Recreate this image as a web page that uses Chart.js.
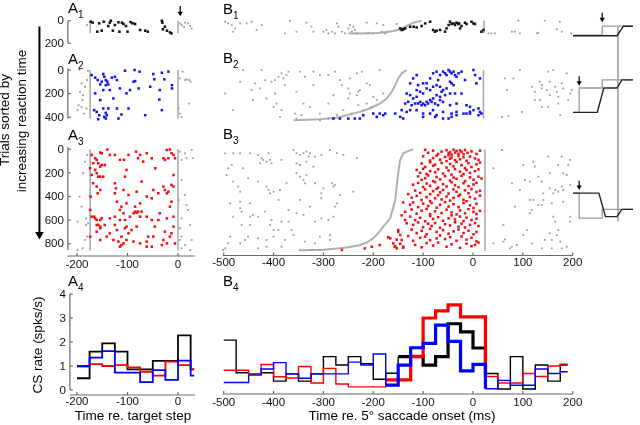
<!DOCTYPE html>
<html>
<head>
<meta charset="utf-8">
<script src="https://cdn.jsdelivr.net/npm/chart.js@4.4.1/dist/chart.umd.min.js"></script>
<style>
  body { margin: 0; background: #fff; }
  #fig { position: relative; width: 640px; height: 425px; overflow: hidden;
         font-family: "Liberation Sans", Arial, sans-serif; color: #000; }
  #fig canvas { position: absolute; left: 0; top: 0; }
  .lab { position: absolute; font-size: 15px; line-height: 15px; white-space: nowrap; z-index: 5; }
  .lab span { font-size: 10px; position: relative; top: 5px; }
  .title { position: absolute; font-size: 13.5px; line-height: 13.5px; white-space: nowrap;
           transform: translateX(-50%); z-index: 5; }
  .rot { position: absolute; font-size: 13.5px; line-height: 13.5px; white-space: nowrap;
         transform: translate(-50%, -50%) rotate(-90deg); z-index: 5; }
</style>
</head>
<body>
<div id="fig">
  <div class="lab" style="left:68px;top:0px">A<span>1</span></div>
  <div class="lab" style="left:68px;top:51px">A<span>2</span></div>
  <div class="lab" style="left:68px;top:127px">A<span>3</span></div>
  <div class="lab" style="left:68px;top:273px">A<span>4</span></div>
  <div class="lab" style="left:223px;top:1px">B<span>1</span></div>
  <div class="lab" style="left:223px;top:50px">B<span>2</span></div>
  <div class="lab" style="left:223px;top:126px">B<span>3</span></div>
  <div class="lab" style="left:223px;top:273px">B<span>4</span></div>
  <div class="rot" style="left:5px;top:120px">Trials sorted by</div>
  <div class="rot" style="left:22px;top:121px">increasing reaction time</div>
  <div class="rot" style="left:38px;top:345px">CS rate (spks/s)</div>
  <div class="title" style="left:133px;top:409px">Time re. target step</div>
  <div class="title" style="left:402px;top:409px">Time re. 5° saccade onset (ms)</div>
</div>
<script>
// ---- histogram data (CS rate, spks/s, 25 ms bins) ----
const aBinStarts = [-200, -175, -150, -125, -100, -75, -50, -25, 0, 25];
const aBinEnd = 32;
const a4Black = [0.49, 1.6, 1.94, 1.6, 0.86, 0.86, 1.21, 1.21, 2.28, 0.86];
const a4Red   = [0.97, 1.08, 1.0, 1.04, 0.94, 0.76, 0.6, 1.18, 1.04, 0.86];
const a4Blue  = [1.0, 1.35, 1.62, 0.72, 0.72, 0.33, 0.83, 0.42, 1.22, 0.6];

const bBinStarts = [-500, -475, -450, -425, -400, -375, -350, -325, -300, -275, -250, -225, -200, -175,
                    -150, -125, -100, -75, -50, -25, 0, 25, 50, 75, 100, 125, 150, 175];
const bBinEnd = 190;
const b4Black = [2.08, 0.72, 0.67, 0.72, 0.37, 0.67, 0.37, 0.67, 1.39, 1.04, 1.39, 1.1, 0.45, 0.7,
                 1.39, 1.39, 1.04, 1.39, 2.76, 2.42, 1.75, 0.69, 0.04, 1.39, 0.04, 1.04, 0.37, 1.04];
const b4Red   = [0.82, 0.82, 0.67, 1.06, 0.55, 0.5, 0.98, 0.29, 0.9, 0.25, 0.13, 0.13, 0.13, 0.42,
                 0.42, 1.4, 3.0, 3.3, 3.55, 3.05, 3.05, 0.56, 0.29, 0.29, 0.69, 0.56, 1.0, 1.08];
const b4Blue  = [0.31, 0.31, 0.62, 0.875, 1.14, 0.67, 0.49, 0.67, 0.67, 0.67, 1.16, 1.04, 1.5, 0.2,
                 1.04, 1.76, 1.94, 2.7, 2.03, 0.8, 1.07, 0.05, 0.4, 0.2, 0.2, 0.875, 0.69, 0.76];

// ---- tick labels ----
const aTicksX = [-200, -100, 0];
const bTicksX = [-500, -400, -300, -200, -100, 0, 100, 200];
const rateTicks = [0, 1, 2, 3, 4];
const a1TicksY = [0, 200];
const a2TicksY = [0, 200, 400];
const a3TicksY = [0, 200, 400, 600, 800];

// ---- raster event lines (ms) and trial counts ----
const aMarkers = [-174, 0];
const bEndMarkers = [22, 21, 24];
const rows = [112, 410, 860];

// ---- target-step time re. saccade (grey sigmoid), by trial ----
const b1CurveTrial = [0, 18, 53, 76, 91, 103, 112, 114];
const b1CurveTime  = [-103, -120, -136, -146, -160, -176, -200, -250];
const b2CurveTrial = [0, 28, 71, 128, 184, 241, 284, 326, 355, 383, 404, 418, 426];
const b2CurveTime  = [-133, -143, -150, -156, -163, -173, -187, -207, -227, -253, -273, -307, -360];
const b3CurveTrial = [0, 12, 34, 90, 203, 430, 585, 655, 710, 754, 790, 811, 830, 839, 850, 855];
const b3CurveTime  = [-120, -128, -140, -146, -150, -156, -166, -180, -190, -200, -213, -227, -250, -267, -300, -345];

// ---- spikes [ms, trial] ----
const a1Spikes = [[-173,9],[-169,17],[-160,97],[-156,23],[-151,88],[-147,9],[-138,47],[-135,17],[-133,0],[-129,88],
  [-125,38],[-118,14],[-116,97],[-111,17],[-108,29],[-103,47],[-100,97],[-94,12],[-90,23],[-85,29],[-75,82],[-65,88],
  [-60,97],[-32,0],[-31,17],[-30,76],[-26,53],[-22,88],[-16,103],[-13,112]];
const a1Other = [[-180,38],[4,23],[7,38],[14,17],[20,23],[24,47],[27,70],[12,55]];

const a2Spikes = [[-171,43],[-164,65],[-159,85],[-154,122],[-148,34],[-146,57],[-151,99],[-143,85],[-140,99],[-143,128],
  [-138,122],[-131,65],[-125,57],[-164,198],[-148,170],[-154,255],[-135,170],[-128,241],[-121,85],[-105,6],[-115,156],
  [-95,170],[-102,198],[-88,99],[-85,94],[-86,0],[-76,14],[-78,156],[-98,326],[-121,326],[-138,326],[-148,326],[-166,340],
  [-161,355],[-156,383],[-143,363],[-141,383],[-146,397],[-158,417],[-143,411],[-118,411],[-112,377],[-65,383],[-55,142],
  [-49,34],[-47,79],[-32,23],[-27,79],[-19,14],[-12,128],[-12,156],[-36,170],[-37,250],[-32,340]];
const a2Other = [[-195,0],[-191,113],[-194,184],[-188,213],[-189,255],[-197,298],[-191,312],[-181,326],[-186,369],[-178,6],
  [-180,85],[-184,142],[-199,340],[4,71],[9,14],[14,85],[17,79],[22,85],[25,99],[22,284],[1,326],[4,369],[7,397]];

const a3Spikes = [[-140,2],[-171,48],[-154,28],[-151,34],[-135,48],[-125,48],[-115,90],[-107,90],[-98,48],[-83,20],[-79,76],
  [-75,48],[-62,34],[-22,6],[-16,2],[-13,34],[-9,48],[-29,76],[-26,90],[-19,76],[-6,76],[-164,76],[-161,90],[-168,119],
  [-158,119],[-151,133],[-164,175],[-154,147],[-145,133],[-174,161],[-171,218],[-161,203],[-154,232],[-148,232],[-161,316],
  [-173,401],[-168,288],[-45,161],[-102,175],[-69,105],[-52,76],[-9,218],
  [-159,373],[-154,345],[-174,514],[-166,571],[-158,641],[-125,288],[-123,331],[-105,232],[-82,359],[-72,274],[-49,345],
  [-39,373],[-29,316],[-26,345],[-19,359],[-13,302],[-9,316],[-13,444],[-16,486],[-22,373],[-125,373],[-108,345],[-98,387],
  [-121,444],[-158,232],[-85,486],[-112,486],[-102,458],[-75,458],[-62,401],[-52,415],
  [-171,571],[-164,585],[-161,599],[-154,599],[-151,585],[-161,641],[-154,655],[-145,641],[-135,585],[-125,571],[-115,514],
  [-108,542],[-105,599],[-102,655],[-95,571],[-88,542],[-85,528],[-82,537],[-79,528],[-75,571],[-72,528],[-62,571],[-52,599],
  [-39,599],[-36,542],[-22,585],[-9,571],[-115,599],[-82,655],[-92,684],[-98,712],[-105,669],[-121,684],[-135,712],[-154,669],
  [-161,698],[-174,740],[-112,740],[-108,797],[-115,825],[-112,811],[-102,768],[-88,782],[-75,797],[-62,782],[-59,740],
  [-49,740],[-46,655],[-29,768],[-26,698],[-16,740],[-13,712],[-9,655],[-32,811],[-52,825],[-62,825],[-22,797],[-6,797],
  [-118,782],[-125,641],[-128,768],[-141,740],[-154,768]];
const a3Other = [[-199,853],[-191,486],[-188,203],[-184,105],[-195,401],[-180,48],[-184,768],[-178,627],[-182,585],[-189,839],
  [-199,613],[-182,641],[-180,740],[4,20],[7,90],[14,34],[17,76],[27,6],[30,76],[7,260],[14,387],[17,472],[7,585],[20,514],
  [4,669],[24,641],[27,768],[4,768],[7,839],[24,853],[14,811],[1,430],[7,740]];

const b1Spikes = [[-146,68],[-143,82],[-140,76],[-136,68],[-126,53],[-119,53],[-113,59],[-103,47],[-96,24],[-86,9],[-80,82],
  [-76,97],[-73,88],[-66,82],[-56,97],[-53,68],[-49,38],[-46,9],[-43,29],[-39,24],[-36,38],[-33,18],[-29,29],[-28,24],
  [-26,68],[-23,47],[-16,18],[-13,29],[-3,9],[1,24],[4,29],[17,97],[21,82]];
const b1Other = [[-497,9],[-491,24],[-484,38],[-477,68],[-481,97],[-467,24],[-454,24],[-444,9],[-434,82],[-424,38],[-377,112],
  [-367,0],[-354,97],[-334,18],[-324,53],[-320,97],[-300,97],[-294,82],[-290,112],[-283,97],[-277,112],[-273,24],[-270,53],
  [-263,97],[-257,112],[-250,68],[-247,38],[-243,97],[-240,53],[-237,82],[-233,112],[-213,18],[-210,106],[-200,112],
  [-193,24],[-180,38],[-183,97],[-176,112],[-153,29],
  [31,112],[37,112],[44,112],[78,97],[84,97],[94,112],[91,0],[128,112],[144,0],[168,76],[178,97],[197,112],[131,106],[174,9]];

const b2Spikes = [[-126,113],[-120,71],[-113,43],[-110,128],[-100,113],[-93,113],[-86,71],[-80,28],[-73,14],[-70,85],[-66,43],
  [-60,14],[-56,28],[-53,43],[-49,0],[-46,14],[-43,28],[-39,14],[-36,43],[-33,57],[-29,28],[-23,14],[-16,85],[1,0],[4,43],
  [7,113],[14,71],[-113,170],[-106,184],[-100,199],[-93,156],[-86,170],[-80,142],[-73,128],[-66,142],[-63,184],[-60,170],
  [-53,156],[-46,99],[-43,113],[-39,128],[-36,199],[-46,199],[-56,213],[-66,227],[-73,213],[-80,241],[-86,255],[-93,270],
  [-100,284],[-106,270],[-113,227],[-120,241],[-126,213],[-133,199],[-136,284],[-130,270],[-123,298],[-116,284],[-110,284],
  [-103,298],[-96,298],[-90,284],[-83,270],[-76,284],[-70,298],[-66,255],[-60,270],[-46,298],[-33,284],[-23,199],[-13,298],
  [-6,312],[1,340],[11,326],[14,355],[17,369],[11,383],[-6,355],[-13,369],[-19,369],[-33,355],[-43,369],[-60,355],[-73,383],
  [-80,340],[-86,369],[-100,369],[-113,340],[-126,340],[-133,355],[-143,340],[-156,369],[-176,369],[-180,383],[-187,369],
  [-193,397],[-200,369],[-220,383],[-227,411],[-237,411],[-250,411],[-267,411],[-280,411],[-146,397],[-140,411],[-100,397],
  [-76,397],[-60,411],[-49,411],[-43,397],[-33,383],[-6,369]];
const b2Other = [[-497,199],[-481,340],[-467,99],[-461,0],[-444,170],[-441,255],[-437,113],[-427,156],[-424,0],[-417,85],
  [-414,241],[-404,99],[-400,312],[-397,85],[-390,57],[-384,28],[-380,71],[-374,43],[-370,14],[-377,128],[-397,199],
  [-394,284],[-384,340],[-387,397],[-347,14],[-337,57],[-320,14],[-307,43],[-290,43],[-277,14],[-247,71],[-233,28],
  [-223,14],[-187,0],[-354,184],[-340,284],[-327,312],[-357,369],[-344,383],[-307,369],[-290,284],[-280,213],[-267,85],
  [-263,128],[-250,156],[-247,199],[-233,213],[-230,184],[-227,170],[-213,113],[-207,128],[-200,227],[-213,284],[-230,298],
  [-250,241],[-260,340],[-273,383],[-243,369],[-220,340],[-203,312],[-193,255],[-180,199],[-290,411],[-307,426],[-354,411],
  [-320,128],
  [94,0],[64,71],[81,71],[68,170],[58,397],[71,391],[98,355],[118,142],[124,184],[134,99],[138,128],[138,156],[134,255],
  [138,312],[151,14],[161,0],[154,99],[148,170],[154,213],[165,142],[168,184],[171,227],[178,113],[181,156],[188,28],
  [191,255],[195,199],[198,170],[175,383],[151,312],[171,284],[124,255]];

const b3Spikes = [[-96,5],[-90,30],[-80,12],[-70,40],[-63,20],[-53,8],[-49,35],[-46,25],[-43,45],[-39,3],[-36,28],[-33,15],
  [-29,38],[-26,10],[-23,22],[-19,42],[-16,6],[-11,30],[-3,18],[7,40],[14,12],
  [-100,60],[-86,95],[-80,75],[-73,55],[-66,88],[-56,65],[-53,100],[-49,52],[-46,80],[-43,70],[-36,92],[-29,58],[-26,85],
  [-19,68],[-13,98],[-6,62],[4,78],[11,90],
  [-103,120],[-96,150],[-86,110],[-80,140],[-76,130],[-63,115],[-53,155],[-46,125],[-39,145],[-33,108],[-23,135],[-16,160],
  [-9,118],[-3,150],[7,128],[14,112],
  [-113,175],[-106,200],[-100,165],[-93,210],[-86,185],[-76,195],[-70,170],[-60,205],[-49,180],[-43,215],[-36,168],
  [-26,190],[-19,210],[-13,175],[-6,200],[4,185],[11,170],
  [-110,230],[-103,260],[-96,245],[-90,222],[-80,270],[-73,235],[-66,255],[-56,228],[-46,265],[-39,240],[-33,250],
  [-23,225],[-16,270],[-6,238],[1,258],[11,232],[17,248],
  [-120,300],[-110,285],[-100,320],[-93,290],[-86,310],[-76,278],[-70,325],[-60,295],[-53,315],[-43,280],[-36,305],
  [-29,322],[-19,288],[-9,312],[1,298],[7,284],
  [-116,350],[-106,370],[-96,340],[-86,380],[-80,355],[-73,335],[-66,365],[-60,345],[-49,375],[-39,340],[-33,360],
  [-26,385],[-16,348],[-9,372],[-3,338],[7,362],[14,352],[-130,380],
  [-123,410],[-113,395],[-103,430],[-93,405],[-86,440],[-76,415],[-70,390],[-63,425],[-53,400],[-46,435],[-39,412],
  [-29,395],[-19,428],[-13,440],[-6,405],[4,418],[14,392],
  [-126,470],[-120,450],[-110,490],[-100,460],[-90,480],[-83,455],[-73,495],[-66,470],[-56,448],[-49,485],[-39,465],
  [-29,490],[-19,455],[-6,475],[1,498],[7,462],[-140,450],
  [-136,530],[-123,510],[-113,545],[-103,520],[-93,505],[-86,550],[-76,525],[-63,540],[-53,512],[-43,535],[-33,552],
  [-26,518],[-16,542],[-9,508],[1,530],[7,548],[14,522],[-143,560],
  [-126,570],[-116,600],[-106,580],[-96,610],[-86,565],[-80,590],[-70,575],[-60,605],[-49,585],[-43,560],[-36,595],
  [-26,570],[-19,608],[-13,580],[-3,600],[7,588],[-136,600],
  [-120,640],[-110,620],[-100,660],[-90,630],[-83,650],[-76,625],[-66,665],[-56,635],[-46,645],[-36,618],[-29,655],
  [-23,630],[-16,662],[-6,640],[4,625],[11,650],[-133,627],
  [-150,700],[-123,680],[-113,710],[-103,690],[-93,720],[-86,675],[-73,700],[-60,685],[-49,715],[-39,695],[-29,680],
  [-19,710],[-9,690],[1,720],[7,700],[-150,684],
  [-170,745],[-153,765],[-130,735],[-120,775],[-106,750],[-96,740],[-86,770],[-73,755],[-66,730],[-56,760],[-46,745],
  [-33,775],[-23,738],[-13,765],[-3,750],[7,780],[-166,754],[-146,726],[-143,768],
  [-156,820],[-146,800],[-140,835],[-116,810],[-103,830],[-93,795],[-80,815],[-70,790],[-53,825],[-43,805],[-26,835],
  [-13,800],[-3,820],[4,810],[11,790],[-263,853],[-217,839],[-203,825],[-187,811],[-160,797],[-157,825],[-153,839],[-140,825]];
const b3Other = [[-497,34],[-481,34],[-467,34],[-447,34],[-431,48],[-410,34],[-424,76],[-421,90],[-407,90],[-404,119],[-384,90],
  [-360,6],[-354,34],[-347,48],[-340,34],[-334,20],[-330,62],[-327,34],[-317,62],[-304,48],[-287,6],[-273,34],[-260,48],
  [-233,76],[-484,133],[-491,161],[-461,161],[-427,119],[-414,105],[-354,119],[-347,133],[-334,105],[-320,147],[-494,218],
  [-471,316],[-467,359],[-481,274],[-451,246],[-431,274],[-414,316],[-410,345],[-407,373],[-400,359],[-387,345],[-374,288],
  [-354,203],[-347,232],[-340,260],[-337,288],[-334,218],[-317,288],[-304,373],[-300,331],[-283,288],[-280,316],[-277,302],
  [-273,458],[-277,486],[-240,359],[-267,387],[-347,429],[-327,486],[-304,415],[-487,458],[-467,500],[-464,528],[-447,571],
  [-441,556],[-431,571],[-417,528],[-404,599],[-400,684],[-390,684],[-384,613],[-407,641],[-464,641],[-447,641],[-487,740],
  [-491,797],[-497,839],[-457,768],[-451,740],[-431,754],[-414,768],[-400,740],[-377,768],[-360,726],[-337,782],[-317,797],
  [-307,740],[-287,726],[-290,599],[-304,585],[-280,571],[-317,613],[-340,556],[-354,542],[-370,514],[-390,429],[-447,458],
  [-467,444],[-481,571],[-467,797],[-414,825],[-431,839],[-501,853],[-384,825],[-324,853],[-307,853],[-347,853],[-287,768],
  [-370,613],[-364,684],
  [58,6],[41,161],[101,133],[121,105],[124,147],[151,62],[178,62],[171,133],[191,133],[195,90],[131,232],[114,274],[104,260],
  [138,274],[154,203],[181,203],[188,218],[78,288],[94,345],[154,331],[165,345],[161,373],[171,359],[178,316],[181,345],
  [195,302],[141,373],[121,429],[114,429],[141,429],[131,472],[138,472],[158,458],[181,444],[84,486],[118,514],[114,542],
  [161,571],[165,613],[195,571],[195,613],[61,641],[108,684],[171,684],[168,726],[154,712],[101,726],[64,763],[144,768],
  [158,768],[175,782],[41,797],[78,825],[88,811],[118,797],[138,839],[158,839],[178,839],[74,839],[61,782],[188,825]];

// ---- schematic on the right and arrows (page units) ----
const sketchTarget = [
  [[577,31],[606.7,31],[606.7,21.7],[638,21.7]],
  [[577,110],[583.3,110],[583.3,85],[606.7,85],[606.7,76.7],[638,76.7]],
  [[577,192.7],[583.3,192.7],[583.3,218.3],[606.7,218.3],[606.7,209.3],[638,209.3]]];
const sketchEye = [
  [[577,31.5],[621.7,31.5],[628.3,21.7],[638,21.7]],
  [[577,110],[601.7,110],[608.3,85],[621.7,85],[626.7,76.7],[638,76.7]],
  [[577,192.7],[603.3,192.7],[610,216.7],[621.7,216.7],[626.7,209.3],[638,209.3]]];
const sketchOnset = [[622.7,21.7],[622.7,221.7]];
const trialArrow = [[35,22],[35,234]];
const stepArrows = [[178,1,11],[606.7,8,17],[583.3,73,82],[583.3,180,189],[35,0,240]];

const RED = '#ee1111', BLUE = '#1515e6', GREY = '#9d9d9d', GREY_LINE = '#a5a5a5';
const FONT = '11.5px "Liberation Sans", Arial, sans-serif';

// axes drawn MATLAB style: offset lines, inward ticks
const frameAxes = {
  id: 'frameAxes',
  afterDatasetsDraw(chart, args, o) {
    const ctx = chart.ctx, sx = chart.scales.x, sy = chart.scales.y, ca = chart.chartArea;
    ctx.save();
    ctx.lineWidth = 1.2;
    ctx.strokeStyle = '#6a6a6a';
    ctx.fillStyle = '#111';
    ctx.font = FONT;
    if (o.y) {
      const x0 = ca.left;
      ctx.beginPath();
      ctx.moveTo(x0, sy.getPixelForValue(o.y.from));
      ctx.lineTo(x0, sy.getPixelForValue(o.y.to));
      ctx.stroke();
      ctx.textAlign = 'right';
      ctx.textBaseline = 'middle';
      o.y.ticks.forEach(v => {
        const p = sy.getPixelForValue(v);
        ctx.beginPath(); ctx.moveTo(x0, p); ctx.lineTo(x0 + 3, p); ctx.stroke();
        ctx.fillText(String(v), x0 - 4, p + 0.5);
      });
    }
    if (o.x) {
      const y0 = ca.bottom + o.x.gap;
      ctx.beginPath();
      ctx.moveTo(sx.getPixelForValue(sx.min), y0);
      ctx.lineTo(sx.getPixelForValue(sx.max), y0);
      ctx.stroke();
      ctx.textAlign = 'center';
      ctx.textBaseline = 'middle';
      o.x.ticks.forEach(v => {
        const p = sx.getPixelForValue(v);
        ctx.beginPath(); ctx.moveTo(p, y0); ctx.lineTo(p, y0 - 3); ctx.stroke();
        ctx.fillText(String(v), p, y0 + o.x.lab);
      });
    }
    ctx.restore();
  }
};

const fig = document.getElementById('fig');
function makeChart(area, xr, yr, datasets, axes) {
  const c = document.createElement('canvas');
  c.width = 640; c.height = 425;
  fig.appendChild(c);
  return new Chart(c, {
    type: 'scatter',
    data: { datasets: datasets },
    options: {
      responsive: false, animation: false, events: [],
      layout: { padding: { left: area[0], right: 640 - area[1], top: area[2], bottom: 425 - area[3] } },
      plugins: { legend: { display: false }, tooltip: { enabled: false }, frameAxes: axes || {} },
      scales: {
        x: { type: 'linear', display: false, min: xr[0], max: xr[1] },
        y: { type: 'linear', display: false, min: yr[0], max: yr[1], reverse: !!yr[2] }
      }
    },
    plugins: [frameAxes]
  });
}

const toPts = arr => arr.map(p => ({ x: p[0], y: p[1] }));
function spikes(arr, color, r) {
  return { data: toPts(arr), pointStyle: 'rect', pointRadius: r, backgroundColor: color, borderWidth: 0, clip: false };
}
function trace(pts, color, w) {
  return { data: pts, showLine: true, pointRadius: 0, borderColor: color, borderWidth: w, fill: false, clip: false };
}
function marker(x, n) { return trace([{ x: x, y: 0 }, { x: x, y: n }], GREY_LINE, 1.5); }
function curve(trials, times) { return trace(times.map((t, i) => ({ x: t, y: trials[i] })), '#b0b0b0', 2); }
// each bin value is held from its start to the next start ('before' = horizontal first, then vertical)
function hist(vals, starts, end, color, thickFrom, thickTo, thin) {
  const pts = starts.map((s, i) => ({ x: s, y: vals[i] }));
  pts.push({ x: end, y: vals[vals.length - 1] });
  return {
    data: pts, showLine: true, stepped: 'before', pointRadius: 0, borderColor: color, borderWidth: thin, fill: false, clip: false,
    segment: { borderWidth: c => (c.p0.parsed.x >= thickFrom && c.p0.parsed.x < thickTo) ? 3.2 : thin }
  };
}

// areas: [left, right, top, bottom] in page pixels
const aX = [-218, 34], aArea = [67.9, 195.2];
const bX = [-502, 200], bArea = [222.7, 572.7];
const y1 = [-24, 206, true], y2 = [-34, 432, true], y3 = [-36, 870, true];
const t1 = [18, 44], t2 = [66, 121], t3 = [145, 252];

// A column (aligned on target step)
makeChart([aArea[0], aArea[1], t1[0], t1[1]], aX, y1,
  [spikes(a1Spikes, '#111', 1.8), spikes(a1Other, GREY, 1.3), marker(aMarkers[0], rows[0]), marker(aMarkers[1], rows[0])],
  { y: { from: 0, to: 200, ticks: a1TicksY } });
makeChart([aArea[0], aArea[1], t2[0], t2[1]], aX, y2,
  [spikes(a2Spikes, BLUE, 1.8), spikes(a2Other, GREY, 1.3), marker(aMarkers[0], rows[1]), marker(aMarkers[1], rows[1])],
  { y: { from: -12, to: 410, ticks: a2TicksY } });
makeChart([aArea[0], aArea[1], t3[0], t3[1]], aX, y3,
  [spikes(a3Spikes, RED, 1.8), spikes(a3Other, GREY, 1.3), marker(aMarkers[0], rows[2]), marker(aMarkers[1], rows[2])],
  { y: { from: -20, to: 855, ticks: a3TicksY }, x: { gap: 4, lab: 8.5, ticks: aTicksX } });
makeChart([69.9, aArea[1], 288, 393], [-214, 34], [-0.125, 4.25],
  [hist(a4Blue, aBinStarts, aBinEnd, '#0000ff', 999, 999, 1.8),
   hist(a4Red, aBinStarts, aBinEnd, '#ff0000', 999, 999, 1.8),
   hist(a4Black, aBinStarts, aBinEnd, '#000', 999, 999, 1.8)],
  { y: { from: 0, to: 4, ticks: rateTicks }, x: { gap: 2, lab: 6.5, ticks: aTicksX } });

// B column (aligned on saccade onset)
makeChart([bArea[0], bArea[1], t1[0], t1[1]], bX, y1,
  [spikes(b1Spikes, '#111', 1.8), spikes(b1Other, GREY, 1.3), curve(b1CurveTrial, b1CurveTime), marker(bEndMarkers[0], rows[0])]);
makeChart([bArea[0], bArea[1], t2[0], t2[1]], bX, y2,
  [spikes(b2Spikes, BLUE, 1.8), spikes(b2Other, GREY, 1.3), curve(b2CurveTrial, b2CurveTime), marker(bEndMarkers[1], rows[1])]);
makeChart([bArea[0], bArea[1], t3[0], t3[1]], bX, y3,
  [spikes(b3Spikes, RED, 1.8), spikes(b3Other, GREY, 1.3), curve(b3CurveTrial, b3CurveTime), marker(bEndMarkers[2], rows[2])],
  { x: { gap: 3.5, lab: 7.5, ticks: bTicksX } });
makeChart([bArea[0], bArea[1], 288, 393], bX, [-0.125, 4.25],
  [hist(b4Blue, bBinStarts, bBinEnd, '#0000ff', -175, 25, 1.4),
   hist(b4Red, bBinStarts, bBinEnd, '#ff0000', -175, 25, 1.4),
   hist(b4Black, bBinStarts, bBinEnd, '#000', -150, 25, 1.4)],
  { x: { gap: 1, lab: 9, ticks: bTicksX } });

// schematic, trial-order arrow and step arrows
const decor = [];
sketchEye.forEach(r => decor.push(trace(toPts(r), '#222', 1.4)));
sketchTarget.forEach(r => decor.push(trace(toPts(r), '#9a9a9a', 1.3)));
decor.push(trace(toPts(sketchOnset), '#9a9a9a', 1.5));
decor.push(trace(toPts(trialArrow), '#000', 2));
stepArrows.forEach((a, i) => {
  if (i < 4) decor.push(trace([{ x: a[0], y: a[1] }, { x: a[0], y: a[2] - 3 }], '#000', 1.2));
  decor.push({ data: [{ x: a[0], y: a[2] - (i < 4 ? 2.5 : 5) }], pointStyle: 'triangle', rotation: 180,
               pointRadius: i < 4 ? 3 : 5, backgroundColor: '#000', borderWidth: 0, clip: false });
});
makeChart([0, 640, 0, 425], [0, 640], [0, 425, true], decor);
</script>
</body>
</html>
